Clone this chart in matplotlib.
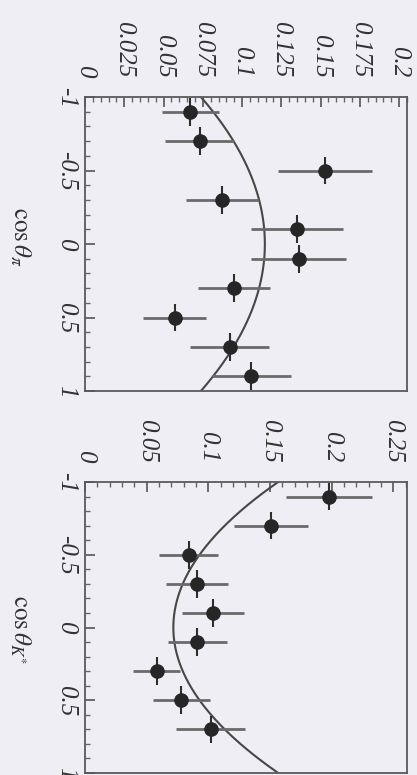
import numpy as np
import matplotlib
matplotlib.use("Agg")
import matplotlib.pyplot as plt
from matplotlib.ticker import MultipleLocator, FixedLocator

plt.rcParams['mathtext.fontset'] = 'stix'

# ---- data: top panel (cos theta_pi) ----
pi_cos = [-0.9, -0.7, -0.5, -0.3, -0.1, 0.1, 0.3, 0.5, 0.7, 0.9]
pi_val = [0.067, 0.073, 0.153, 0.087, 0.135, 0.136, 0.095, 0.057, 0.092, 0.106]
pi_err = [0.018, 0.022, 0.030, 0.023, 0.029, 0.030, 0.023, 0.020, 0.025, 0.025]
pi_fit_a, pi_fit_b = 0.1145, -0.0407   # a + b*cos^2

# ---- data: bottom panel (cos theta_K*) ----
k_cos = [-0.9, -0.7, -0.5, -0.3, -0.1, 0.1, 0.3, 0.5, 0.7]
k_val = [0.198, 0.151, 0.084, 0.091, 0.104, 0.091, 0.058, 0.078, 0.102]
k_err = [0.035, 0.030, 0.024, 0.025, 0.025, 0.024, 0.019, 0.023, 0.028]
k_fit_a, k_fit_b = 0.0716, 0.0850

bin_half = 0.095

pi_ticks = [0, 0.025, 0.05, 0.075, 0.1, 0.125, 0.15, 0.175, 0.2]
pi_ticklabels = ["0", "0.025", "0.05", "0.075", "0.1", "0.125", "0.15", "0.175", "0.2"]
k_ticks = [0, 0.05, 0.1, 0.15, 0.2, 0.25]
k_ticklabels = ["0", "0.05", "0.1", "0.15", "0.2", "0.25"]
cos_ticks = [-1, -0.5, 0, 0.5, 1]
cos_ticklabels = ["-1", "-0.5", "0", "0.5", "1"]

BG = "#eeeef4"
W, H = 417, 775
fig = plt.figure(figsize=(W / 100, H / 100), dpi=100, facecolor=BG)

tickfont = dict(family="Liberation Serif", style="italic", size=18)


def panel(rect, cosv, val, err, a, b, xmax, ticks, ticklabels, minor, label, label_y):
    ax = fig.add_axes(rect)
    ax.set_facecolor(BG)
    ax.set_xlim(0, xmax)
    ax.set_ylim(1, -1)
    c = np.linspace(-1, 1, 300)
    ax.plot(a + b * c ** 2, c, color="#474747", lw=1.5, zorder=2)
    ax.errorbar(val, cosv, xerr=err, fmt="none", ecolor="#6a6a6a", elinewidth=2.0, capsize=0, zorder=3)
    ax.errorbar(val, cosv, yerr=bin_half, fmt="o", color="#262626", ms=9.5,
                ecolor="#2e2e2e", elinewidth=1.5, capsize=0, zorder=4)
    ax.xaxis.set_ticks_position("top")
    ax.xaxis.set_major_locator(FixedLocator(ticks))
    ax.set_xticklabels(ticklabels, rotation=-90, **tickfont)
    ax.xaxis.set_minor_locator(MultipleLocator(minor))
    ax.yaxis.set_major_locator(FixedLocator(cos_ticks))
    ax.set_yticklabels(cos_ticklabels, rotation=-90, va="center", **tickfont)
    ax.yaxis.set_minor_locator(MultipleLocator(0.1))
    ax.tick_params(axis="x", which="major", direction="in", length=7, width=1.2,
                   color="#555555", pad=14, labelcolor="#333333")
    ax.tick_params(axis="x", which="minor", direction="in", length=3.5, width=1.0, color="#666666")
    ax.tick_params(axis="y", which="major", direction="in", length=7, width=1.2,
                   color="#555555", pad=6, labelcolor="#333333")
    ax.tick_params(axis="y", which="minor", direction="in", length=3.5, width=1.0, color="#666666")
    for s in ax.spines.values():
        s.set_color("#5a5a5a")
        s.set_linewidth(1.3)
    fig.text(20 / W, 1 - label_y / H, label, rotation=-90, ha="center", va="center",
             fontsize=18, color="#333333")
    return ax


panel([85 / W, 1 - 391 / H, 322 / W, 294 / H], pi_cos, pi_val, pi_err, pi_fit_a, pi_fit_b,
      0.205, pi_ticks, pi_ticklabels, 0.005, r"$\mathrm{cos}\,\theta_{\pi}$", 237)
panel([85 / W, 1 - 773 / H, 322 / W, 291 / H], k_cos, k_val, k_err, k_fit_a, k_fit_b,
      0.261, k_ticks, k_ticklabels, 0.01, r"$\mathrm{cos}\,\theta_{K^{*}}$", 630)

fig.savefig("out.png", dpi=100, facecolor=BG)
